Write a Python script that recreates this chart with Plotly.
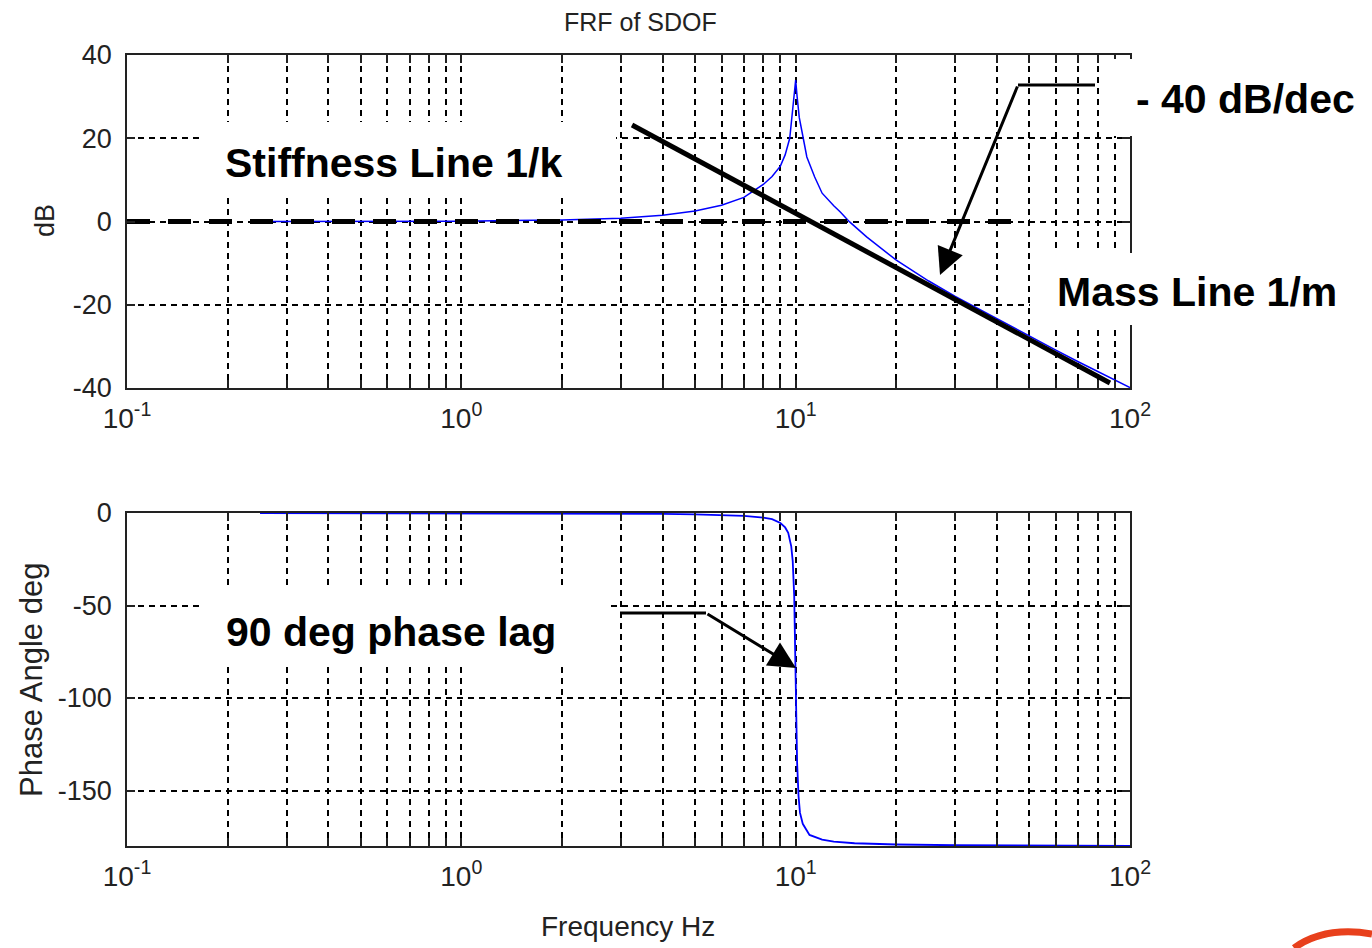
import plotly.graph_objects as go

# ---------------- data ----------------
freq_mag = [0.25, 0.5, 1, 2, 3, 4, 5, 6, 7, 8, 8.5, 9, 9.3, 9.6, 9.8, 9.92, 10.0, 10.1, 10.25, 10.45,
            10.8, 11.4, 12, 13, 13.6, 14.5, 16.3, 20, 25, 30, 40, 50, 60, 70, 80, 90, 100]
mag_db = [0.0, 0.02, 0.09, 0.35, 0.8, 1.5, 2.5, 3.9, 5.8, 8.9, 10.8, 13.3, 16.0, 20.0, 26.5, 31.0, 34.0,
          30.0, 25.0, 21.5, 15.5, 10.7, 6.8, 3.8, 2.3, -0.1, -3.7, -9.3, -14.3, -18.0, -23.4, -27.6,
          -30.9, -33.7, -36.0, -38.0, -39.9]

freq_ph = [0.25, 1, 2, 3, 4, 5, 6, 7, 8, 8.5, 9, 9.3, 9.5, 9.7, 9.8, 9.9, 10.0, 10.1,
           10.2, 10.3, 10.5, 11, 12, 13, 15, 20, 30, 50, 100]
phase_deg = [0.0, -0.1, -0.2, -0.35, -0.5, -0.75, -1.1, -1.6, -2.5, -3.3, -5.4, -7.8, -10.7, -18, -26,
             -45, -90, -135, -153, -162, -168, -174, -176.5, -177.6, -178.5, -179.2, -179.6, -179.8, -179.9]

mass_line_f = [3.24, 87.1]
mass_line_db = [23.2, -38.8]

stiff_line_f = [0.1, 50.2]
stiff_line_db = [0.0, 0.0]

x_tick_vals = [m * 10 ** e for e in (-1, 0, 1) for m in range(1, 10)] + [100]
x_tick_text = ["10<sup>-1</sup>" if v == 0.1 else "10<sup>0</sup>" if v == 1 else
               "10<sup>1</sup>" if v == 10 else "10<sup>2</sup>" if v == 100 else "" for v in x_tick_vals]
mag_ticks = [-40, -20, 0, 20, 40]
mag_tick_text = ["-40", "-20", "0", "20", "40"]
phase_ticks = [-150, -100, -50, 0]
phase_tick_text = ["-150", "-100", "-50", "0"]

# ---------------- layout helpers (pixel -> paper) ----------------
W, H = 1372, 948
L, R, T, B = 127, 1130, 55, 846


def px(x):
    return (x - L) / (R - L)


def py(y):
    return (B - y) / (B - T)


FONT = "Liberation Sans, Arial, sans-serif"
TXT = "#222222"

fig = go.Figure()
fig.add_trace(go.Scatter(x=freq_mag, y=mag_db, mode="lines", line=dict(color="#0000ff", width=1.5),
                         xaxis="x", yaxis="y", showlegend=False))
fig.add_trace(go.Scatter(x=stiff_line_f, y=stiff_line_db, mode="lines",
                         line=dict(color="black", width=5, dash="23px,18px"),
                         xaxis="x", yaxis="y", showlegend=False))
fig.add_trace(go.Scatter(x=mass_line_f, y=mass_line_db, mode="lines", line=dict(color="black", width=5),
                         xaxis="x", yaxis="y", showlegend=False))
fig.add_trace(go.Scatter(x=freq_ph, y=phase_deg, mode="lines", line=dict(color="#0000ff", width=1.8),
                         xaxis="x2", yaxis="y2", showlegend=False))

xcommon = dict(type="log", range=[-1, 2], tickvals=x_tick_vals, ticktext=x_tick_text,
               showgrid=True, gridcolor="black", gridwidth=1.5, griddash="6px,5px",
               showline=True, linecolor="#222", linewidth=1.8, mirror="allticks",
               ticks="inside", ticklen=8, tickwidth=1.5, tickcolor="#222",
               tickfont=dict(family=FONT, size=28, color=TXT), zeroline=False, ticklabelstandoff=4)
ycommon = dict(showgrid=True, gridcolor="black", gridwidth=1.5, griddash="6px,5px",
               showline=True, linecolor="#222", linewidth=1.8, mirror="allticks",
               ticks="inside", ticklen=8, tickwidth=1.5, tickcolor="#222",
               tickfont=dict(family=FONT, size=27, color=TXT), zeroline=False, ticklabelstandoff=8)

fig.update_layout(
    width=W, height=H,
    margin=dict(l=L, r=W - R, t=T, b=H - B),
    paper_bgcolor="white", plot_bgcolor="white",
    xaxis=dict(xcommon, domain=[0, 1], anchor="y"),
    yaxis=dict(ycommon, domain=[py(388), 1], anchor="x", range=[-40, 40], tickvals=mag_ticks,
               ticktext=mag_tick_text),
    xaxis2=dict(xcommon, domain=[0, 1], anchor="y2"),
    yaxis2=dict(ycommon, domain=[0, py(513)], anchor="x2", range=[-180, 0], tickvals=phase_ticks,
                ticktext=phase_tick_text),
)

shapes = []
# white boxes behind callout texts
for (x0, y0, x1, y1) in [(200, 122, 616, 197), (1100, 59, 1372, 136), (1030, 253, 1372, 325),
                         (200, 590, 607, 667)]:
    shapes.append(dict(type="rect", xref="paper", yref="paper", x0=px(x0), x1=px(x1), y0=py(y1), y1=py(y0),
                       fillcolor="white", line=dict(width=0), layer="above"))
# leader lines
shapes.append(dict(type="path", xref="paper", yref="paper", layer="above",
                   path=f"M {px(1095)} {py(85)} L {px(1018)} {py(85)}",
                   line=dict(color="black", width=3)))
shapes.append(dict(type="path", xref="paper", yref="paper", layer="above",
                   path=f"M {px(620)} {py(613)} L {px(706)} {py(613)}",
                   line=dict(color="black", width=3)))
# partial logo arc bottom right
shapes.append(dict(type="path", xref="paper", yref="paper", layer="above",
                   path=f"M {px(1294)} {py(948)} Q {px(1325)} {py(926)} {px(1372)} {py(934)}",
                   line=dict(color="#e8401c", width=7)))
fig.update_layout(shapes=shapes)


def label(text, x, y, size, color=TXT, angle=0):
    return dict(text=text, x=px(x), y=py(y), xref="paper", yref="paper", showarrow=False,
                xanchor="center", yanchor="middle", textangle=angle,
                font=dict(family=FONT, size=size, color=color))


ann = [
    label("FRF of SDOF", 640, 22, 25),
    label("Frequency Hz", 628, 927, 28),
    label("dB", 45, 221, 27, angle=-90),
    label("Phase Angle deg", 31, 680, 31, angle=-90),
]
for (t, x, y) in [("Stiffness Line 1/k", 393, 163), ("- 40 dB/dec", 1245, 99), ("Mass Line 1/m", 1197, 292),
                  ("90 deg phase lag", 391, 632)]:
    ann.append(label(f"<b>{t}</b>", x, y, 41, color="black"))
# arrows
ann.append(dict(text="", x=px(940), y=py(275), xref="paper", yref="paper", showarrow=True,
                ax=1018 - 940, ay=85 - 275, arrowhead=2, arrowsize=1.8, arrowwidth=3, arrowcolor="black",
                standoff=0))
ann.append(dict(text="", x=px(796), y=py(668), xref="paper", yref="paper", showarrow=True,
                ax=706 - 796, ay=613 - 668, arrowhead=2, arrowsize=1.8, arrowwidth=3, arrowcolor="black",
                standoff=0))
fig.update_layout(annotations=ann)

fig.write_html("out.html")
